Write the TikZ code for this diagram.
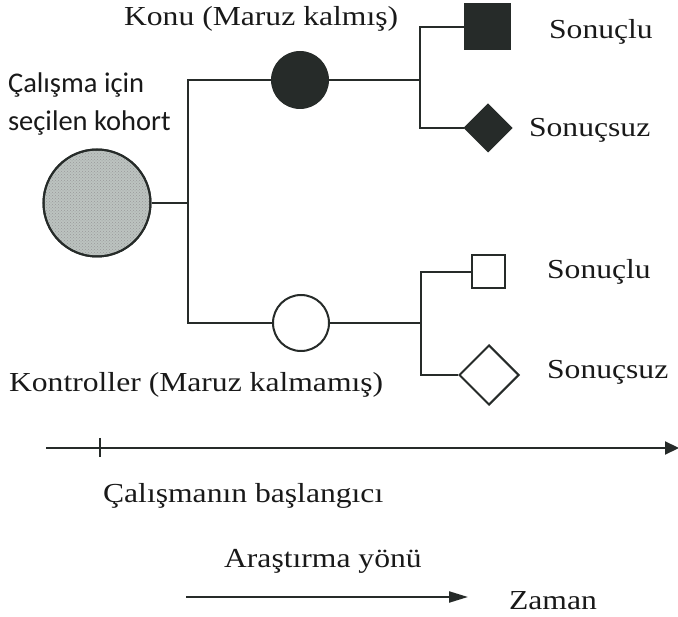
\documentclass[tikz,border=0pt]{standalone}
\usepackage{fontspec}
\setmainfont{Liberation Serif}[FakeStretch=1.15]
\newfontfamily\labelsans{Carlito}
\usetikzlibrary{shapes.geometric,arrows.meta,patterns}
\definecolor{ink}{HTML}{262B29}
\definecolor{cohortfill}{HTML}{BCC3C0}
\begin{document}
\begin{tikzpicture}[x=1pt,y=-1pt,
  line width=2.2pt, color=ink,
  serif/.style={font=\fontsize{27.5}{30}\selectfont, anchor=base west, inner sep=0pt, text=black!90},
  sans/.style={font=\labelsans\fontsize{28.5}{32}\selectfont, anchor=base west, inner sep=0pt, text=black!90},
  disc/.style={circle, draw=ink, line width=2pt, inner sep=0pt, minimum size=#1},
  box/.style={rectangle, draw=ink, line width=2pt, inner sep=0pt, minimum size=#1},
  gem/.style={diamond, aspect=1, draw=ink, line width=2pt, inner sep=0pt, minimum size=#1}
]
\useasboundingbox (0,0) rectangle (678,617);

% cohort and the two groups
\node[disc=107pt, fill=cohortfill] (cohort) at (97,203) {};
\fill[pattern=crosshatch dots, pattern color=gray!80] (97,203) circle (52pt);
\node[disc=107pt] (cohortring) at (97,203) {};
\node[disc=56pt, fill=ink] (exp) at (300,80) {};
\node[disc=56pt, fill=white] (ctrl) at (301,323) {};

% outcomes
\node[box=45pt, fill=ink] (sq1) at (487,27) {};
\node[gem=47pt, fill=ink] (dm1) at (488,128) {};
\node[box=33pt, fill=white] (sq2) at (488,272) {};
\node[gem=60pt, fill=white] (dm2) at (489,375) {};

% branch points
\coordinate (trunk) at (188,203);
\coordinate (split1) at (420,80);
\coordinate (split2) at (421,323);

% connectors
\draw (cohort) -- (trunk);
\draw (exp) -| (trunk) |- (ctrl);
\draw (exp) -- (split1);
\draw (ctrl) -- (split2);
\draw (sq1) -| (split1) |- (dm1);
\draw (sq2) -| (split2) |- (dm2);

% labels
\node[serif] (lexp) at (123,26) {Konu (Maruz kalmış)};
\node[sans] (lcoh1) at (7,93) {Çalışma için};
\node[sans] (lcoh2) at (7,131) {seçilen kohort};
\node[serif] (lsq1) at (548,39) {Sonuçlu};
\node[serif] (ldm1) at (528,137) {Sonuçsuz};
\node[serif] (lsq2) at (546,279) {Sonuçlu};
\node[serif] (ldm2) at (546,379) {Sonuçsuz};
\node[serif] (lctrl) at (8,392) {Kontroller (Maruz kalmamış)};

% time axis
\coordinate (axstart) at (46,448);
\coordinate (axend) at (679,448);
\coordinate (tickTop) at (100,438);
\coordinate (tickBot) at (100,457);
\draw[-{Triangle[length=14pt, width=13pt]}] (axstart) -- (axend);
\draw[line width=1.8pt] (tickTop) -- (tickBot);
\node[serif] (lstart) at (102,503) {Çalışmanın başlangıcı};

% direction of the study
\node[serif] (ldir) at (223,568) {Araştırma yönü};
\coordinate (dirA) at (186,597);
\coordinate (dirB) at (468,597);
\draw[-{Triangle[length=19pt, width=11pt]}] (dirA) -- (dirB);
\node[serif] (ltime) at (508,609) {Zaman};
\end{tikzpicture}
\end{document}
